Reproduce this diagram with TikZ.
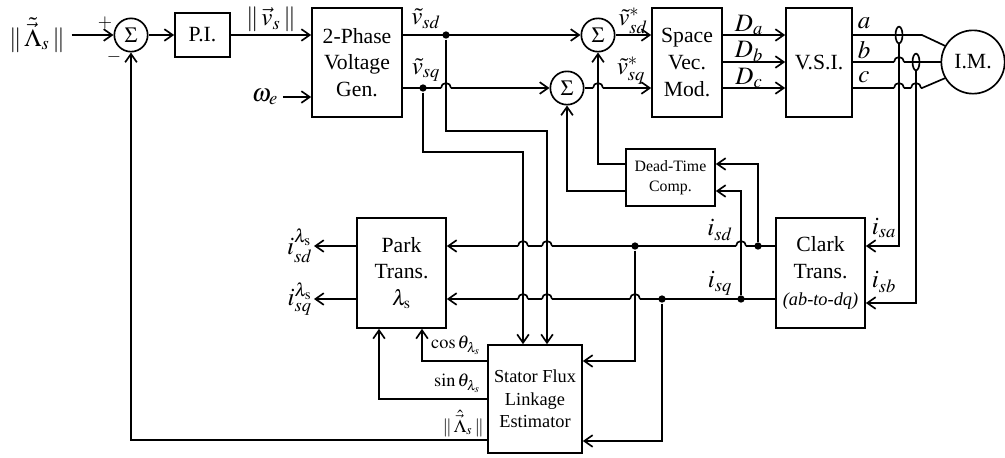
\documentclass[tikz,border=0pt]{standalone}
\usepackage{mathptmx}
\usepackage{fontspec}
\setmainfont{Liberation Serif}
\usetikzlibrary{arrows.meta,calc,shapes.geometric}

% small bridge where a horizontal line jumps over a vertical one
\newcommand{\hop}[2]{%
  \fill[white] (#1-5,#2-1.8) rectangle (#1+5,#2+1.8);
  \draw (#1-5,#2) arc[start angle=180,end angle=0,radius=3pt];}

\begin{document}
\begin{tikzpicture}[
    x=0.6pt, y=-0.6pt, line width=1pt,
    font=\fontsize{13}{16}\selectfont,
    block/.style={draw, align=center, inner sep=0pt},
    sumnode/.style={draw, circle, minimum size=20pt, inner sep=0pt},
    sensor/.style={draw, ellipse, minimum width=4.2pt, minimum height=10pt, inner sep=0pt},
    jn/.style={circle, fill, inner sep=0pt, minimum size=4.4pt},
    lbl/.style={inner sep=0.5pt, font=\fontsize{15}{18}\selectfont},
    small/.style={font=\fontsize{11}{13.5}\selectfont},
    sig/.style={-{Straight Barb[length=5pt,width=7pt]}}
]
    \useasboundingbox (0,0) rectangle (1005,457);

    % blocks
    \node[sumnode] (s1) at (131,35) {$\Sigma$};
    \node[block, minimum width=33pt, minimum height=26.4pt] (pi) at (202.5,35) {P.I.};
    \node[block, minimum width=54pt, minimum height=65.4pt] (gen) at (357,62.5) {2-Phase\\Voltage\\Gen.};
    \node[sumnode] (s2) at (567,88) {$\Sigma$};
    \node[sumnode] (s3) at (598,35) {$\Sigma$};
    \node[block, minimum width=42pt, minimum height=65.4pt] (svm) at (687,62.5) {Space\\Vec.\\Mod.};
    \node[block, minimum width=39.6pt, minimum height=65.4pt] (vsi) at (819,62.5) {V.S.I.};
    \node[draw, circle, minimum size=38pt, inner sep=0pt] (motor) at (973,62) {I.M.};
    \node[block, minimum width=53.4pt, minimum height=34.2pt, font=\fontsize{9.5}{12}\selectfont] (dtc) at (670.5,177.5) {Dead-Time\\Comp.};
    \node[block, minimum width=53.4pt, minimum height=66pt] (clark) at (820.5,273) {Clark\\Trans.\\{\fontsize{11}{13}\selectfont\itshape (ab-to-dq)}};
    \node[block, minimum width=53.4pt, minimum height=66pt] (park) at (401.5,273) {Park\\Trans.\\$\lambda_{\mathrm{s}}$};
    \node[block, small, minimum width=56.4pt, minimum height=64.8pt] (est) at (535,399) {Stator Flux\\Linkage\\Estimator};

    % references and top chain
    \node[lbl] (fref) at (37,35) {$\|\,\tilde{\vec{\Lambda}}_s\,\|$};
    \draw[sig] (fref.east) ++(5,0) -- (s1);
    \node[small] at (105,23) {$+$};
    \node[small] at (114,57) {$-$};
    \draw[sig] (s1) -- (pi);
    \draw[sig] (pi) -- (pi -| gen.west) node[lbl, midway, above=1pt] {$\|\,\vec{v}_s\,\|$};
    \node[lbl] (we) at (265,97) {$\omega_e$};
    \draw[sig] (we.east) ++(3,0) -- (we -| gen.west);

    \node[jn] (jd) at (446,35) {};
    \node[jn] (jq) at (423,88) {};
    \draw[sig] (s3 -| gen.east) -- (s3);
    \draw[sig] (s2 -| gen.east) -- (s2);
    \draw[sig] (s3) -- (s3 -| svm.west);
    \draw[sig] (s2) -- (s2 -| svm.west);
    \node[lbl] at (426,19) {$\tilde{v}_{sd}$};
    \node[lbl] at (426,70) {$\tilde{v}_{sq}$};
    \node[lbl] at (633,21) {$\tilde{v}^{*}_{sd}$};
    \node[lbl] at (631,71) {$\tilde{v}^{*}_{sq}$};

    \foreach \py/\ph in {35/a,62/b,88/c}
        \draw[sig] (svm.east |- 0,\py) -- (vsi.west |- 0,\py) node[lbl, pos=0.42, above=-1pt] {$D_\ph$};

    % inverter to motor
    \draw (vsi.east |- 0,35) -- (922,35) -- (motor.150);
    \draw (vsi.east |- 0,62) -- (motor.west);
    \draw (vsi.east |- 0,88) -- (922,88) -- (motor.210);
    \node[lbl] at (864,23) {$a$};
    \node[lbl] at (864,50) {$b$};
    \node[lbl] at (864,77) {$c$};
    \node[sensor] (ca) at (899,35) {};
    \node[sensor] (cb) at (916,62) {};

    % dq currents towards Park
    \draw[sig] (clark.west |- 0,246) -- (park.east |- 0,246);
    \draw[sig] (clark.west |- 0,299) -- (park.east |- 0,299);
    \draw[sig] (park.west |- 0,246) -- (314,246) node[lbl, left] {$i_{sd}^{\lambda_{\mathrm{s}}}$};
    \draw[sig] (park.west |- 0,299) -- (314,299) node[lbl, left] {$i_{sq}^{\lambda_{\mathrm{s}}}$};
    \node[lbl] at (720,230) {$i_{sd}$};
    \node[lbl] at (720,283) {$i_{sq}$};

    % bridges
    \hop{446}{88} \hop{598}{88} \hop{899}{62} \hop{899}{88} \hop{916}{88}
    \foreach \hx in {523,547,741} {\hop{\hx}{246}}
    \foreach \hx in {523,547,635} {\hop{\hx}{299}}

    \node[jn] (isdA) at (758,246) {};
    \node[jn] (isdB) at (635,246) {};
    \node[jn] (isqA) at (741,299) {};
    \node[jn] (isqB) at (662,299) {};

    % feedback paths
    \draw[sig] (jd) |- (547,131) -- (547,0 |- est.north);
    \draw[sig] (jq) |- (523,152) -- (523,0 |- est.north);
    \draw[sig] (dtc.west |- 0,164) -| (s3);
    \draw[sig] (dtc.west |- 0,191) -| (s2);
    \draw[sig] (isdA) |- (dtc.east |- 0,164);
    \draw[sig] (isqA) |- (dtc.east |- 0,191);
    \draw[sig] (isdB) |- (est.east |- 0,361);
    \draw[sig] (isqB) |- (est.east |- 0,441);
    \draw[sig] (ca) |- (clark.east |- 0,246);
    \draw[sig] (cb) |- (clark.east |- 0,303);
    \node[lbl] at (884,228) {$i_{sa}$};
    \node[lbl] at (884,282) {$i_{sb}$};

    \draw[sig] (est.west |- 0,361) -| (422,0 |- park.south);
    \draw[sig] (est.west |- 0,399) -| (379,0 |- park.south);
    \draw[sig] (est.west |- 0,440) -| (s1);
    \node[small, anchor=south east] at (487,361) {$\cos\theta_{\lambda_s}$};
    \node[small, anchor=south east] at (487,399) {$\sin\theta_{\lambda_s}$};
    \node[small, anchor=south east, inner sep=1.5pt] at (487,440) {$\|\,\hat{\vec{\Lambda}}_s\,\|$};
\end{tikzpicture}
\end{document}
